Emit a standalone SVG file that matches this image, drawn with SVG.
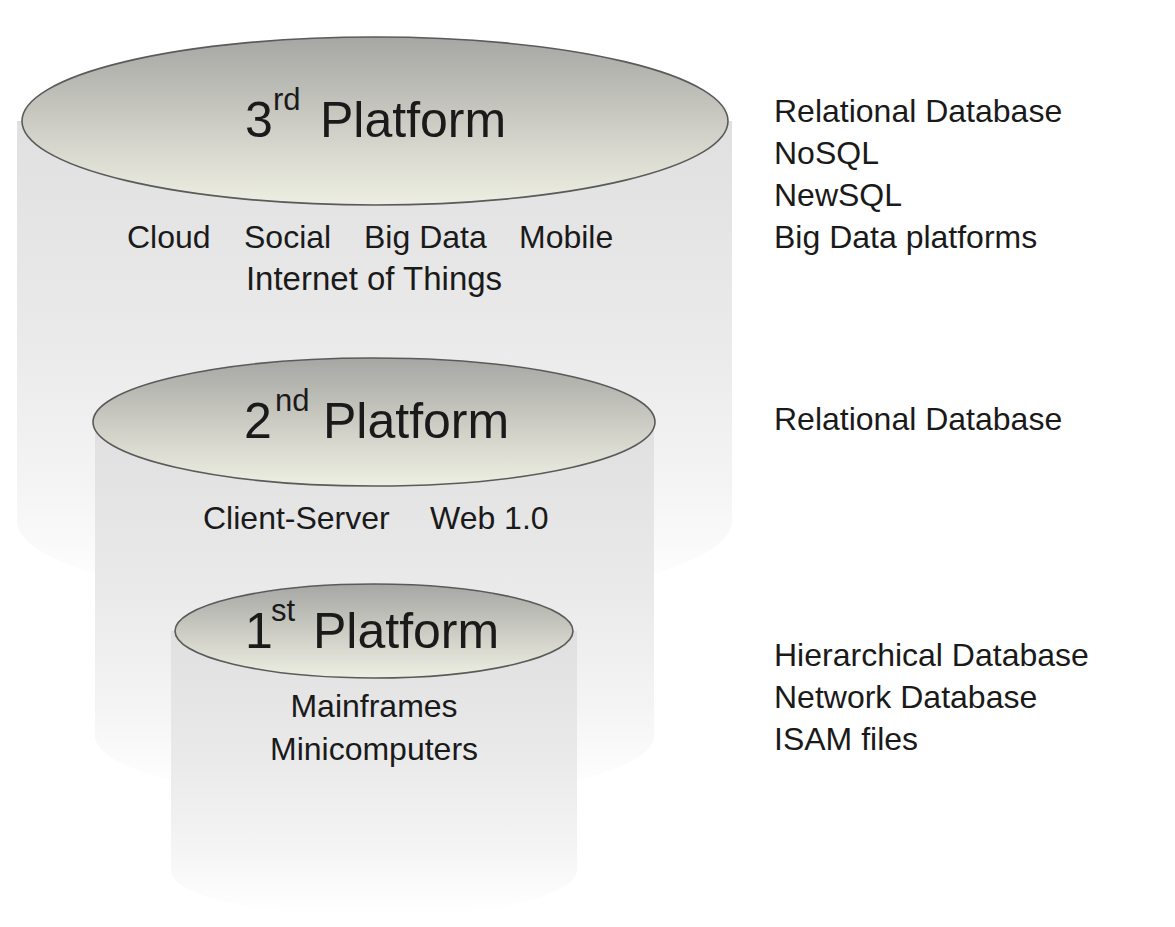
<svg xmlns="http://www.w3.org/2000/svg" width="1175" height="927" viewBox="0 0 1175 927">
  <defs>
    <linearGradient id="capGrad" x1="0" y1="0" x2="0" y2="1">
      <stop offset="0" stop-color="#a6a6a3"/>
      <stop offset="0.55" stop-color="#cfcfc7"/>
      <stop offset="1" stop-color="#eeefe2"/>
    </linearGradient>
    <linearGradient id="bodyGrad" x1="0" y1="0" x2="0" y2="1">
      <stop offset="0" stop-color="#e0e0e0"/>
      <stop offset="0.45" stop-color="#eaeaea"/>
      <stop offset="0.75" stop-color="#f4f4f4"/>
      <stop offset="0.92" stop-color="#fcfcfc"/>
      <stop offset="1" stop-color="#ffffff"/>
    </linearGradient>
  </defs>
  <style>
    .body { fill: url(#bodyGrad); stroke: none; }
    .cap { fill: url(#capGrad); stroke: #5a5a5a; stroke-width: 1.6; }
    text { font-family: "Liberation Sans", Arial, sans-serif; fill: #1a1a1a; }
    .title { font-size: 50px; }
    .sup { font-size: 31px; }
    .lbl { font-size: 32px; }
    .mid { text-anchor: middle; }
  </style>
  <rect width="1175" height="927" fill="#ffffff"/>

  <g id="platform3">
    <path class="body" d="M17,121 L17,521 A357.5,84 0 0 0 732,521 L732,121 Z"/>
    <ellipse class="cap" cx="375" cy="121" rx="353" ry="84"/>
    <text class="title" x="245" y="137">3</text>
    <text class="sup" x="273" y="110">rd</text>
    <text class="title" x="320" y="137">Platform</text>
    <text class="lbl" x="127" y="248">Cloud</text>
    <text class="lbl" x="244" y="248">Social</text>
    <text class="lbl" x="364" y="248">Big Data</text>
    <text class="lbl" x="519" y="248">Mobile</text>
    <text class="lbl mid" x="374" y="290" style="font-size:33px">Internet of Things</text>
  </g>

  <g id="platform2">
    <path class="body" d="M95,422 L95,736 A279.5,64 0 0 0 654,736 L654,422 Z"/>
    <ellipse class="cap" cx="374" cy="422" rx="281" ry="64"/>
    <text class="title" x="244" y="438">2</text>
    <text class="sup" x="275" y="411">nd</text>
    <text class="title" x="323" y="438">Platform</text>
    <text class="lbl" x="203" y="529">Client-Server</text>
    <text class="lbl" x="430" y="529">Web 1.0</text>
  </g>

  <g id="platform1">
    <path class="body" d="M171,631 L171,870 A203,47 0 0 0 577,870 L577,631 Z"/>
    <ellipse class="cap" cx="374" cy="631" rx="199" ry="47"/>
    <text class="title" x="245" y="648">1</text>
    <text class="sup" x="271" y="621">st</text>
    <text class="title" x="313" y="648">Platform</text>
    <text class="lbl mid" x="374" y="717">Mainframes</text>
    <text class="lbl mid" x="374" y="760">Minicomputers</text>
  </g>

  <g id="db3">
    <text class="lbl" x="774" y="122">Relational Database</text>
    <text class="lbl" x="774" y="164">NoSQL</text>
    <text class="lbl" x="774" y="206">NewSQL</text>
    <text class="lbl" x="774" y="248">Big Data platforms</text>
  </g>

  <g id="db2">
    <text class="lbl" x="774" y="430">Relational Database</text>
  </g>

  <g id="db1">
    <text class="lbl" x="774" y="666">Hierarchical Database</text>
    <text class="lbl" x="774" y="708">Network Database</text>
    <text class="lbl" x="774" y="750">ISAM files</text>
  </g>
</svg>
